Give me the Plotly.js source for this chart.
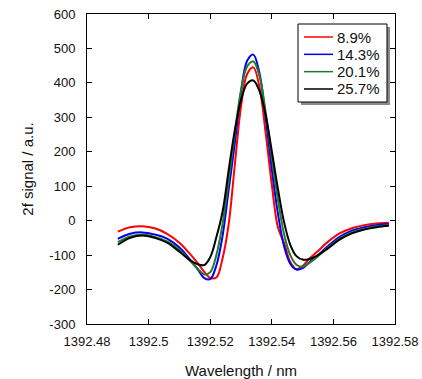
<!DOCTYPE html>
<html>
<head>
<meta charset="utf-8">
<script src="https://cdn.plot.ly/plotly-3.0.1.min.js"></script>
<style>html,body{margin:0;padding:0;background:#fff;}#chart{width:422px;height:379px;}</style>
</head>
<body>
<div id="chart"></div>
<script>
// Wavelength grid (nm)
var wavelength = [1392.490, 1392.494, 1392.498, 1392.502, 1392.506, 1392.510, 1392.513, 1392.516, 1392.518, 1392.520,
                  1392.522, 1392.524, 1392.526, 1392.528, 1392.530, 1392.532, 1392.534, 1392.536, 1392.538, 1392.540,
                  1392.542, 1392.544, 1392.546, 1392.548, 1392.550, 1392.552, 1392.555, 1392.558, 1392.562, 1392.566,
                  1392.570, 1392.574, 1392.578];

var seriesNames = ['8.9%', '14.3%', '20.1%', '25.7%'];

var signal_8_9 = [-32, -19, -16, -22, -38, -64, -92, -124, -148, -166,
                  -165, -110, -10, 163, 331, 426, 445, 388, 255, 105,
                  -20, -65, -120, -141, -132, -112, -88, -63, -37, -22,
                  -13, -8, -6];

var signal_14_3 = [-53, -38, -34, -40, -52, -78, -108, -142, -166, -170,
                   -130, -45, 90, 225, 374, 464, 482, 428, 300, 150,
                   20, -75, -125, -142, -138, -122, -100, -76, -47, -29,
                   -19, -13, -10];

var signal_20_1 = [-62, -46, -40, -47, -60, -85, -112, -140, -156, -150,
                   -100, -10, 118, 255, 378, 448, 462, 420, 315, 185,
                   60, -40, -100, -128, -134, -124, -103, -80, -52, -34,
                   -24, -17, -13];

var signal_25_7 = [-70, -50, -43, -50, -64, -90, -112, -127, -129, -106,
                   -48, 25, 147, 263, 350, 398, 407, 376, 307, 202,
                   92, -5, -70, -103, -113, -112, -100, -82, -55, -37,
                   -26, -19, -15];

var xTickVals = [1392.48, 1392.50, 1392.52, 1392.54, 1392.56, 1392.58];
var xTickText = ['1392.48', '1392.5', '1392.52', '1392.54', '1392.56', '1392.58'];
var yTickVals = [-300, -200, -100, 0, 100, 200, 300, 400, 500, 600];
var yTickText = ['-300', '-200', '-100', '0', '100', '200', '300', '400', '500', '600'];

var allSignals = [signal_8_9, signal_14_3, signal_20_1, signal_25_7];
var colors = ['#ff0000', '#0000ee', '#237a2f', '#000000'];

var traces = allSignals.map(function (ys, i) {
  return {
    x: wavelength,
    y: ys,
    name: seriesNames[i],
    type: 'scatter',
    mode: 'lines',
    showlegend: false,
    line: {color: colors[i], width: 2, shape: 'spline', smoothing: 1}
  };
});

// Legend box drawn in paper coordinates (framed box with a drop shadow)
var font = 'Liberation Sans, Arial, sans-serif';
var legBox = {x0: 0.6851, x1: 0.9740, y0: 0.7161, y1: 0.9677};
var legRowTop = 0.9258, legRowStep = 0.0559;
var legLineX0 = 0.7045, legLineX1 = 0.7987, legTextX = 0.8052;

var shapes = [
  {type: 'rect', xref: 'paper', yref: 'paper', layer: 'above',
   x0: legBox.x0 + 0.0097, x1: legBox.x1 + 0.0097, y0: legBox.y0 - 0.0097, y1: legBox.y1 - 0.0097,
   fillcolor: '#8a8a8a', line: {width: 0}},
  {type: 'rect', xref: 'paper', yref: 'paper', layer: 'above',
   x0: legBox.x0, x1: legBox.x1, y0: legBox.y0, y1: legBox.y1,
   fillcolor: '#ffffff', line: {color: '#000', width: 1}}
];
var annotations = [];
seriesNames.forEach(function (name, i) {
  var yy = legRowTop - i * legRowStep;
  shapes.push({type: 'line', xref: 'paper', yref: 'paper', layer: 'above',
               x0: legLineX0, x1: legLineX1, y0: yy, y1: yy,
               line: {color: colors[i], width: 1.5}});
  annotations.push({xref: 'paper', yref: 'paper', x: legTextX, y: yy,
                    xanchor: 'left', yanchor: 'middle', showarrow: false,
                    text: name, font: {family: font, size: 15, color: '#111'}});
});

var layout = {
  width: 422,
  height: 379,
  margin: {l: 87, r: 27, t: 14, b: 55},
  paper_bgcolor: '#fff',
  plot_bgcolor: '#fff',
  font: {family: font, size: 13, color: '#111'},
  showlegend: false,
  shapes: shapes,
  annotations: annotations,
  xaxis: {
    range: [1392.48, 1392.58],
    tickmode: 'array', tickvals: xTickVals, ticktext: xTickText,
    ticks: 'inside', ticklen: 5, tickcolor: '#000',
    ticklabelstandoff: 5,
    showline: true, linecolor: '#000', linewidth: 1, mirror: 'ticks',
    showgrid: false, zeroline: false,
    tickfont: {family: font, size: 13, color: '#111'},
    title: {text: 'Wavelength / nm', font: {family: font, size: 15, color: '#111'}, standoff: 17}
  },
  yaxis: {
    range: [-300, 600],
    tickmode: 'array', tickvals: yTickVals, ticktext: yTickText,
    ticks: 'inside', ticklen: 5, tickcolor: '#000',
    ticklabelstandoff: 8,
    showline: true, linecolor: '#000', linewidth: 1, mirror: 'ticks',
    showgrid: false, zeroline: false,
    tickfont: {family: font, size: 13, color: '#111'},
    title: {text: '2f signal / a.u.', font: {family: font, size: 15, color: '#111'}, standoff: 12}
  }
};

Plotly.newPlot('chart', traces, layout, {staticPlot: true, displayModeBar: false});
</script>
</body>
</html>
